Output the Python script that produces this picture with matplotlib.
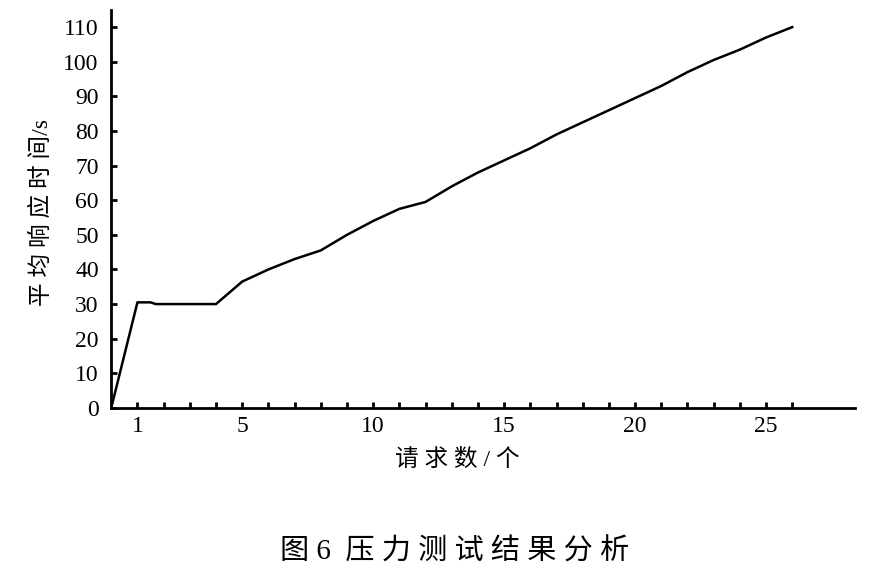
import matplotlib
matplotlib.use("Agg")
import matplotlib.pyplot as plt

# request count vs average response time (s)
requests_n = [0, 1, 1.5, 1.7, 4, 5, 6, 7, 8, 9, 10, 11, 12, 13, 14, 15, 16, 17,
              18, 19, 20, 21, 22, 23, 24, 25, 26]
resp_time = [0, 30.5, 30.5, 30, 30, 36.5, 40, 43, 45.5, 50, 54, 57.5, 59.5, 64,
             68, 71.5, 75, 79, 82.5, 86, 89.5, 93, 97, 100.5, 103.5, 107, 110]

x_labels = [1, 5, 10, 15, 20, 25]
y_ticks = list(range(0, 111, 10))

serif = 'Liberation Serif'
mixed = [serif, 'Noto Sans CJK SC', 'DejaVu Sans']

fig = plt.figure(figsize=(8.69, 5.77), dpi=100)
ax = fig.add_axes([0.128, 0.293, 0.856, 0.690])

ax.plot(requests_n, resp_time, color='black', linewidth=1.8)

ax.set_xlim(0, 28.4)
ax.set_ylim(0, 115)

ax.spines['top'].set_visible(False)
ax.spines['right'].set_visible(False)
ax.spines['left'].set_linewidth(2)
ax.spines['bottom'].set_linewidth(2)

xt = list(range(1, 27))
ax.set_xticks(xt)
ax.set_xticklabels([str(v) if v in x_labels else '' for v in xt],
                   fontfamily=serif, fontsize=17)
ax.set_yticks(y_ticks)
ax.set_yticklabels([str(v) for v in y_ticks], fontfamily=serif, fontsize=17)
ax.tick_params(axis='both', direction='in', length=4, width=2, color='black')
ax.tick_params(axis='y', pad=9)
ax.tick_params(axis='x', pad=6)

ax.set_ylabel('平 均 响 应 时 间/s', family=mixed, fontsize=17)
ax.yaxis.set_label_coords(-0.078, 0.49)
ax.set_xlabel('请 求 数 / 个', family=mixed, fontsize=17)
ax.xaxis.set_label_coords(0.465, -0.103)

fig.text(0.523, 0.043, '图 6  压 力 测 试 结 果 分 析', family=mixed, fontsize=21,
         ha='center', va='center')

fig.savefig('out.png', dpi=100)
